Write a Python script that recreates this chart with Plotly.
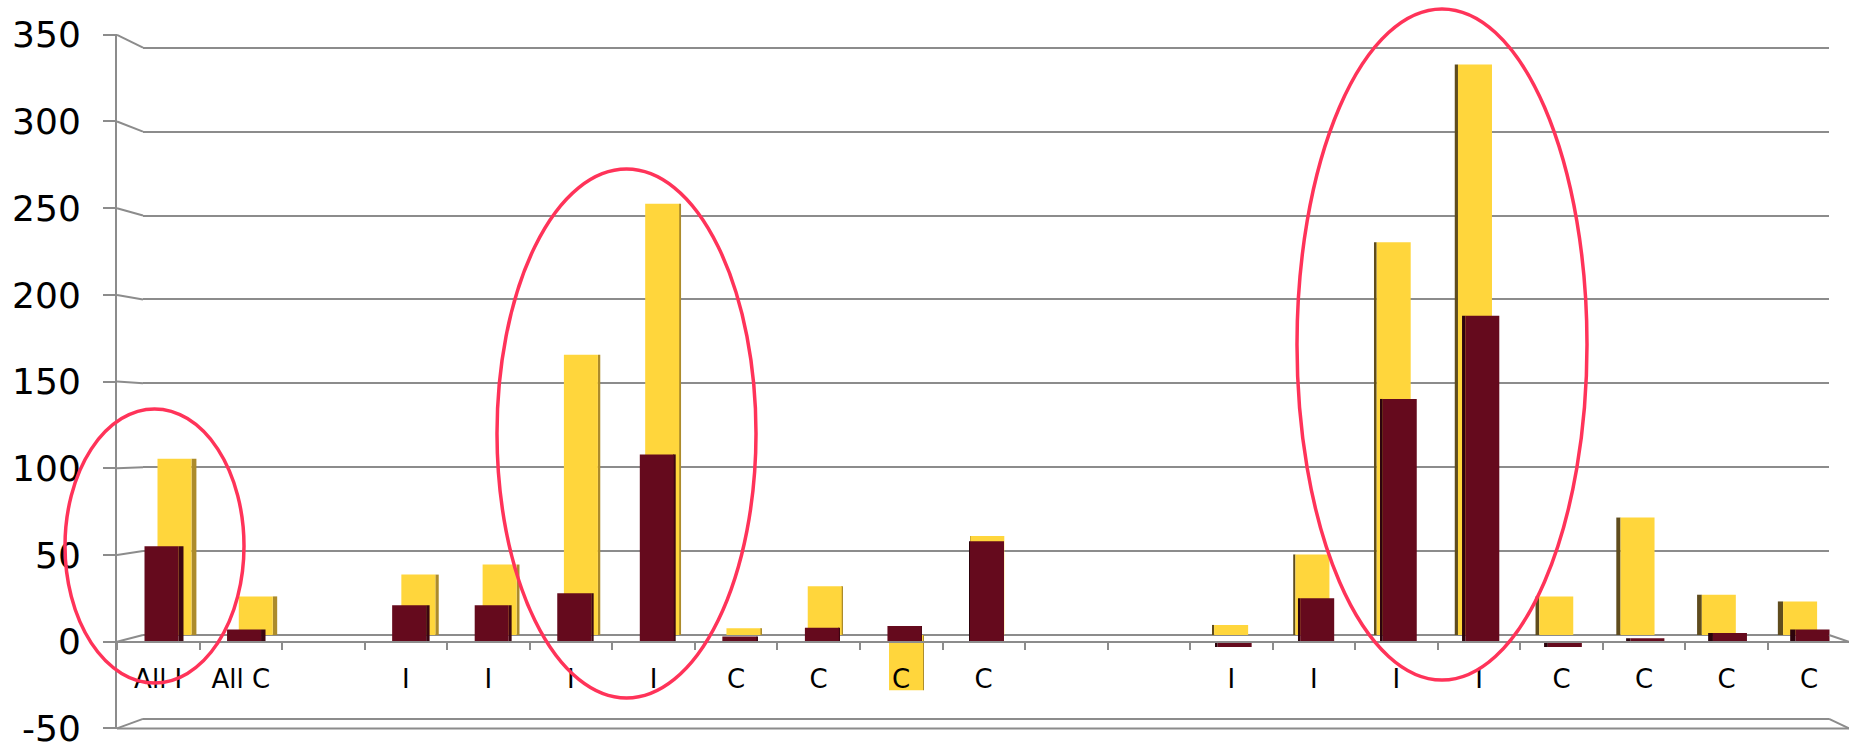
import plotly.graph_objects as go

# ---------------- data ----------------
categories = ["All I", "All C", "", "I", "I", "I", "I", "C", "C", "C", "C",
              "", "", "I", "I", "I", "I", "C", "C", "C", "C"]
back_series = [105, 23, None, 36, 42, 167, 257, 4, 29, -33, 59,
               None, None, 6, 48, 234, 340, 23, 70, 24, 20]          # yellow (rear row)
front_series = [55, 7, None, 21, 21, 28, 108, 3, 8, 9, 58,
                None, None, -3, 25, 140, 188, -3, 2, 5, 7]          # dark red (front row)
y_tick_values = [-50, 0, 50, 100, 150, 200, 250, 300, 350]
y_tick_labels = ["-50", "0", "50", "100", "150", "200", "250", "300", "350"]

# ---------------- geometry / style ----------------
W, H = 1849, 743
FRONT_X = (117, 1849); FRONT_C0 = 161.5; FRONT_STEP = 82.55
BACK_X = (143, 1829);  BACK_C0 = 174.5;  BACK_STEP = 81.28
FRONT_Y0 = 641.7; FRONT_K = 1.734
BACK_Y0 = 635.0;  BACK_K = 1.678
YMIN, YMAX = -50, 350
PAD = 0.6          # small range padding so edge gridlines / labels are kept
VP = 960           # horizontal vanishing point for side faces

YELLOW = "#FFD63C"
MAROON = "#650A1D"
GRID = "#8C8C8C"
RING = "#FF3359"
FONT = "DejaVu Sans"


def fy(v):
    return FRONT_Y0 - v * FRONT_K


def by(v):
    return BACK_Y0 - v * BACK_K


def px(p):
    return p / W


def py(p):
    return 1 - p / H


n = len(categories)
idx = list(range(n))


def side_faces(c0, step, bw, light, dark):
    widths, offsets, colors = [], [], []
    for i in idx:
        c = c0 + i * step
        w = 5 * abs(c - VP) / 800 / step
        widths.append(w)
        if c < VP:
            offsets.append(bw / 2)
            colors.append(light)
        else:
            offsets.append(-bw / 2 - w)
            colors.append(dark)
    return widths, offsets, colors


BW_BACK = 34 / BACK_STEP
BW_FRONT = 34 / FRONT_STEP

fig = go.Figure()

ys_w, ys_o, ys_c = side_faces(BACK_C0, BACK_STEP, BW_BACK, "#AC8B2B", "#5F4C1D")
fig.add_trace(go.Bar(x=idx, y=back_series, width=ys_w, offset=ys_o,
                     marker=dict(color=ys_c, line=dict(width=0)),
                     xaxis="x", yaxis="y", hoverinfo="skip"))
fig.add_trace(go.Bar(x=idx, y=back_series, width=[BW_BACK] * n, offset=[-BW_BACK / 2] * n,
                     marker=dict(color=YELLOW, line=dict(width=0)),
                     xaxis="x", yaxis="y", name="rear"))

rs_w, rs_o, rs_c = side_faces(FRONT_C0, FRONT_STEP, BW_FRONT, "#3C0612", "#2C030C")
fig.add_trace(go.Bar(x=idx, y=front_series, width=rs_w, offset=rs_o,
                     marker=dict(color=rs_c, line=dict(width=0)),
                     xaxis="x2", yaxis="y2", hoverinfo="skip"))
fig.add_trace(go.Bar(x=idx, y=front_series, width=[BW_FRONT] * n, offset=[-BW_FRONT / 2] * n,
                     marker=dict(color=MAROON, line=dict(width=0)),
                     xaxis="x2", yaxis="y2", name="front"))

# decorative 3-D frame lines
shapes = []
for v in y_tick_values:
    shapes.append(dict(type="line", xref="paper", yref="paper",
                       x0=px(FRONT_X[0]), y0=py(fy(v)), x1=px(BACK_X[0]), y1=py(by(v)),
                       line=dict(color=GRID, width=2)))
for v in (YMIN, 0):
    shapes.append(dict(type="line", xref="paper", yref="paper",
                       x0=px(BACK_X[1]), y0=py(by(v)), x1=px(FRONT_X[1]), y1=py(fy(v)),
                       line=dict(color=GRID, width=2)))
shapes.append(dict(type="line", xref="paper", yref="paper",
                   x0=px(FRONT_X[0]), y0=py(fy(YMIN)), x1=px(FRONT_X[1]), y1=py(fy(YMIN)),
                   line=dict(color=GRID, width=2)))

# highlight rings (pixel boxes)
rings = [(65, 409, 244, 683), (497, 169, 756, 698), (1297, 9, 1587, 680)]
for x0, y0, x1, y1 in rings:
    shapes.append(dict(type="circle", xref="paper", yref="paper", layer="above",
                       x0=px(x0), x1=px(x1), y0=py(y1), y1=py(y0),
                       line=dict(color=RING, width=3.5)))

lo, hi = YMIN - PAD, YMAX + PAD

fig.update_layout(
    width=W, height=H, autosize=False,
    margin=dict(l=0, r=0, t=0, b=0, pad=0, autoexpand=False),
    paper_bgcolor="white", plot_bgcolor="rgba(0,0,0,0)",
    barmode="overlay", showlegend=False,
    font=dict(family=FONT, color="black"),
    shapes=shapes,
    xaxis=dict(domain=[px(BACK_X[0]), px(BACK_X[1])],
               range=[(BACK_X[0] - BACK_C0) / BACK_STEP, (BACK_X[1] - BACK_C0) / BACK_STEP],
               showgrid=False, zeroline=False, showline=False, showticklabels=False,
               ticks="", anchor="y", automargin=False),
    yaxis=dict(domain=[py(by(lo)), py(by(hi))], range=[lo, hi],
               tickvals=y_tick_values, showgrid=True, gridcolor=GRID, gridwidth=2,
               zeroline=False, showline=False, showticklabels=False, ticks="",
               anchor="x", automargin=False),
    xaxis2=dict(domain=[px(FRONT_X[0]), px(FRONT_X[1])],
                range=[(FRONT_X[0] - FRONT_C0) / FRONT_STEP, (FRONT_X[1] - FRONT_C0) / FRONT_STEP],
                anchor="free", position=py(FRONT_Y0), automargin=False,
                showgrid=False, zeroline=False, showline=True, linecolor=GRID, linewidth=2,
                tickvals=[i - 0.04 for i in idx], ticktext=categories, ticks="",
                ticklabeloverflow="allow",
                tickfont=dict(size=26, family=FONT, color="black"), ticklabelstandoff=14,
                minor=dict(tickvals=[k + (FRONT_X[0] - FRONT_C0) / FRONT_STEP for k in range(n + 1)],
                           ticks="outside", ticklen=7, tickwidth=2, tickcolor=GRID, showgrid=False)),
    yaxis2=dict(domain=[py(fy(lo)), py(fy(hi))], range=[lo, hi], anchor="x2",
                tickvals=y_tick_values, ticktext=y_tick_labels, automargin=False,
                ticklabeloverflow="allow",
                showgrid=False, zeroline=False, showline=True, linecolor=GRID, linewidth=2,
                ticks="outside", ticklen=12, tickwidth=2, tickcolor=GRID,
                tickfont=dict(size=36, family=FONT, color="black"), ticklabelstandoff=15),
)

fig.write_html("out.html")
